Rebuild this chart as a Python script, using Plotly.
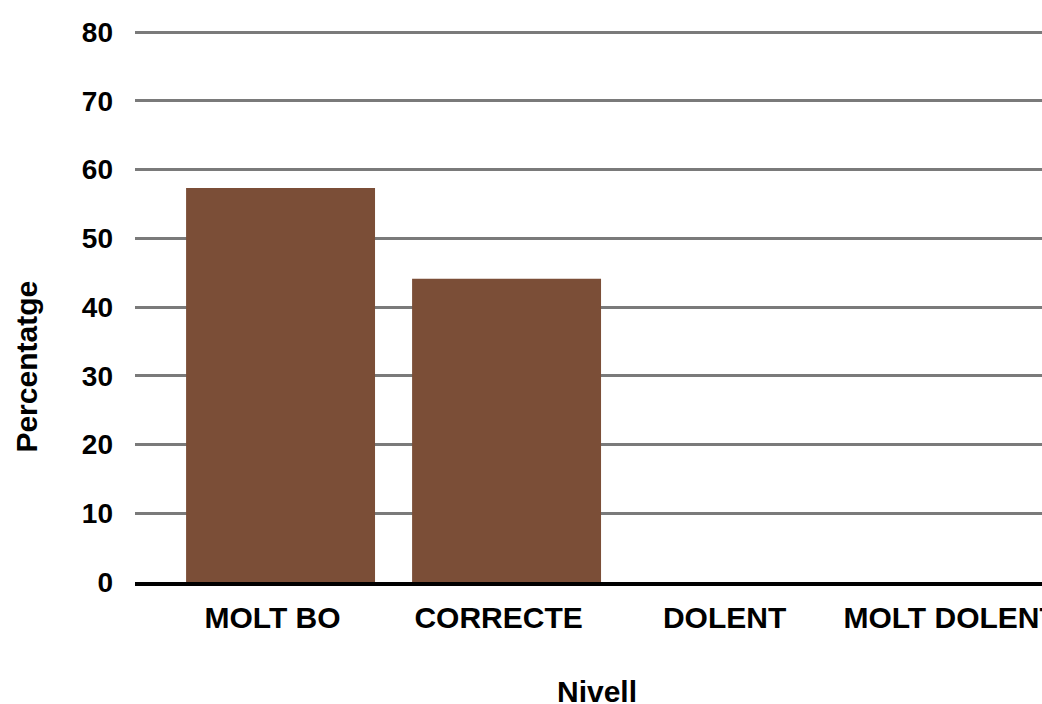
import plotly.graph_objects as go

categories = ["MOLT BO", "CORRECTE", "DOLENT", "MOLT DOLENT"]
values = [57.3, 44.1, 0, 0]
y_ticks = [0, 10, 20, 30, 40, 50, 60, 70, 80]

FONT = "Liberation Sans, Arial, sans-serif"

fig = go.Figure()
fig.add_trace(go.Bar(
    x=categories, y=values,
    marker=dict(color="#7B4E37", line=dict(width=0)),
    width=0.836,
))

fig.update_layout(
    width=1042, height=704,
    paper_bgcolor="white", plot_bgcolor="white",
    margin=dict(l=135, r=0, t=25, b=122, autoexpand=False),
    showlegend=False,
    bargap=0.164,
    xaxis=dict(
        type="category",
        range=[-0.644, 3.369],
        automargin=False,
        showgrid=False,
        showline=True, linecolor="black", linewidth=4,
        ticks="", ticklabelstandoff=6, ticklabelshift=-8,
        tickfont=dict(family=FONT, size=30, color="black", weight="bold"),
        zeroline=False,
    ),
    yaxis=dict(
        range=[0, 81.02],
        automargin=False,
        tickvals=y_ticks,
        showgrid=True, gridcolor="#7a7a7a", gridwidth=3,
        zeroline=False, showline=False,
        ticks="", ticklabelstandoff=21,
        tickfont=dict(family=FONT, size=28, color="black", weight="bold"),
    ),
    annotations=[
        dict(text="Percentatge", textangle=-90, xref="paper", yref="paper",
             x=-0.12, y=0.387, xanchor="center", yanchor="middle", showarrow=False,
             font=dict(family=FONT, size=30, color="black", weight="bold")),
        dict(text="Nivell", xref="paper", yref="paper",
             x=0.509, y=-0.196, xanchor="center", yanchor="middle", showarrow=False,
             font=dict(family=FONT, size=30, color="black", weight="bold")),
    ],
)

fig.write_html("out.html", config={"displayModeBar": False},
               post_script="document.body.style.margin='0';document.body.style.overflow='hidden';")
